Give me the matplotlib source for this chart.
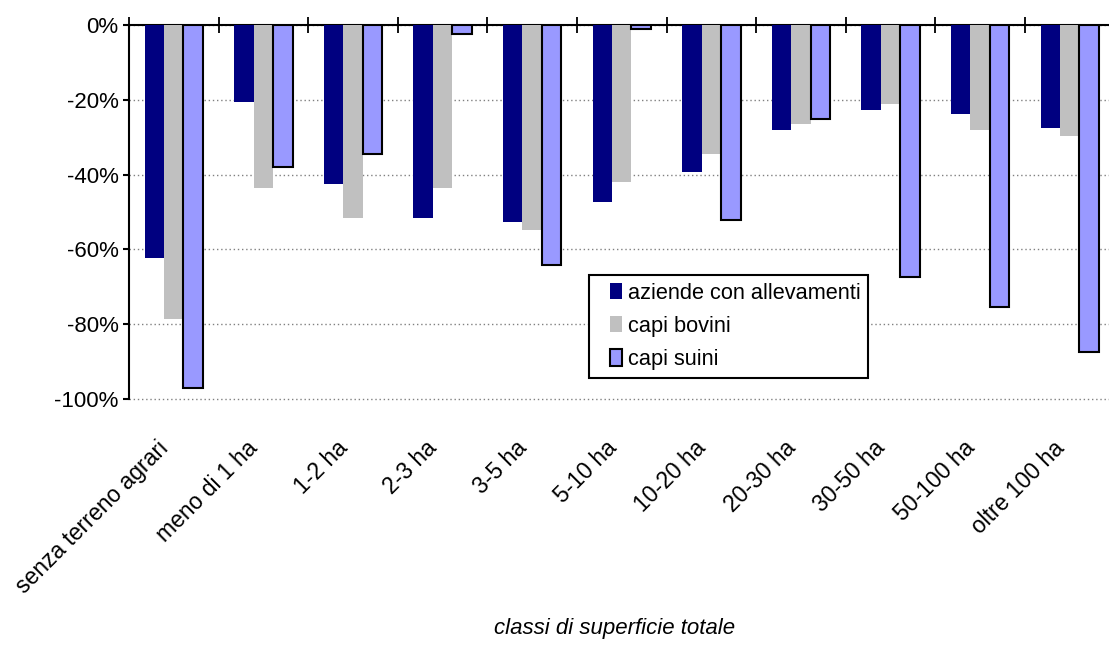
import numpy as np
import matplotlib
matplotlib.use('Agg')
import matplotlib.pyplot as plt
import matplotlib.patches as mpatches
import matplotlib.transforms as mtransforms
from matplotlib.container import BarContainer
from matplotlib.legend_handler import HandlerPatch, update_from_first_child
from matplotlib.ticker import FuncFormatter

plt.rcParams['font.family'] = ['Liberation Sans', 'DejaVu Sans']

classi = ['senza terreno agrari', 'meno di 1 ha', '1-2 ha', '2-3 ha', '3-5 ha',
          '5-10 ha', '10-20 ha', '20-30 ha', '30-50 ha', '50-100 ha', 'oltre 100 ha']
aziende = [-62.2, -20.5, -42.4, -51.5, -52.6, -47.2, -39.2, -28.0, -22.6, -23.7, -27.5]
bovini = [-78.7, -43.5, -51.5, -43.5, -54.7, -41.9, -34.5, -26.4, -21.0, -28.0, -29.6]
suini = [-97.0, -38.1, -34.4, -2.3, -64.3, -1.2, -52.1, -25.2, -67.5, -75.5, -87.3]

fig = plt.figure(figsize=(11.09, 6.65), dpi=100)
ax = fig.add_axes([0.1163, 0.4, 0.8887, 0.5624])

x = np.arange(len(classi)) + 0.5
w = 0.217
ax.bar(x - w, aziende, w, color='#000080', label='aziende con allevamenti', zorder=3)
ax.bar(x, bovini, w, color='#C0C0C0', label='capi bovini', zorder=3)
ax.bar(x + w, suini, w, color='#9999FF', edgecolor='black', linewidth=1.5,
       label='capi suini', zorder=3)

ax.set_xlim(0, len(classi))
ax.set_ylim(-100, 0)

for s in ['right', 'bottom']:
    ax.spines[s].set_visible(False)
ax.spines['left'].set_linewidth(1.5)
ax.spines['top'].set_linewidth(1.5)

ax.set_yticks(np.arange(-100, 1, 20))
ax.yaxis.set_major_formatter(FuncFormatter(lambda v, p: '%d%%' % v))
ax.tick_params(axis='y', direction='out', length=4.5, width=1.5, labelsize=16, pad=3)
ax.yaxis.grid(True, linestyle=(0, (1, 2)), color='#808080', linewidth=1, zorder=0)
for gl in ax.get_ygridlines():
    gl.set_clip_on(False)

ax.set_xticks(np.arange(0, len(classi) + 1))
ax.set_xticks(x, minor=True)
ax.set_xticklabels(classi, minor=True, rotation=45, ha='right', rotation_mode='anchor')
ax.tick_params(axis='x', which='major', top=True, bottom=False, labeltop=False,
               labelbottom=False, direction='inout', length=12, width=1.3)
ax.tick_params(axis='x', which='minor', top=False, bottom=True, labelbottom=True,
               length=0, labelsize=16.5, pad=30)
# labels sit a bit left of the category centre, like in Excel
shift = mtransforms.ScaledTranslation(-17 / 100, 4 / 100, fig.dpi_scale_trans)
for lab in ax.get_xticklabels(minor=True):
    lab.set_transform(lab.get_transform() + shift)

ax.set_xlabel('classi di superficie totale', fontsize=16, style='italic')
ax.xaxis.set_label_coords(0.493, -0.585)


def small_box(legend, orig_handle, xdescent, ydescent, width, height, fontsize):
    # narrow square at the right end of the handle area
    bw = 8.6
    return mpatches.Rectangle((width - xdescent - bw, -ydescent), bw, height)


hmap = {BarContainer: HandlerPatch(patch_func=small_box, update_func=update_from_first_child)}
leg = ax.legend(loc='upper left', bbox_to_anchor=(0.4665, 0.3316), fontsize=15.7,
                frameon=True, fancybox=False, edgecolor='black', framealpha=1,
                borderpad=0.35, handlelength=1.17, handleheight=0.78,
                handletextpad=0.28, labelspacing=0.56, borderaxespad=0,
                handler_map=hmap)
leg.get_frame().set_linewidth(1.5)
leg.set_zorder(5)

fig.savefig('out.png', dpi=100)
